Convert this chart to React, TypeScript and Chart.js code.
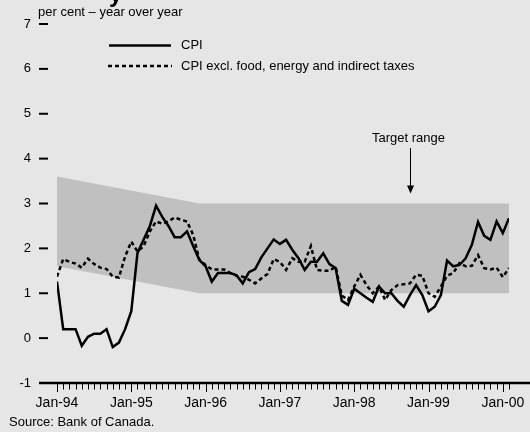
import { useEffect, useRef } from 'react';
import { Chart, registerables } from 'chart.js';

Chart.register(...registerables);

const FONT = '"Liberation Sans", Arial, Helvetica, sans-serif';

// Month index 0 = Jan-94 ... 73 = Feb-00
const yearLabels = ['Jan-94', 'Jan-95', 'Jan-96', 'Jan-97', 'Jan-98', 'Jan-99', 'Jan-00'];
const yTicks = [-1, 0, 1, 2, 3, 4, 5, 6, 7];

const cpi = [
  1.26, 0.2, 0.2, 0.2, -0.17, 0.03, 0.1, 0.1, 0.2, -0.2, -0.1, 0.2,
  0.6, 1.9, 2.2, 2.5, 2.95, 2.7, 2.5, 2.25, 2.25, 2.38, 2.05, 1.74,
  1.6, 1.26, 1.45, 1.45, 1.45, 1.4, 1.22, 1.47, 1.54, 1.8, 2.0, 2.2,
  2.1, 2.19, 1.97, 1.78, 1.52, 1.7, 1.7, 1.89, 1.65, 1.56, 0.83, 0.74,
  1.1, 1.0, 0.9, 0.81, 1.15, 1.0, 1.0, 0.83, 0.7, 0.96, 1.18, 0.96,
  0.6, 0.7, 0.96, 1.73, 1.6, 1.63, 1.78, 2.08, 2.59, 2.28, 2.19, 2.6,
  2.34, 2.67,
];

const core = [
  1.37, 1.76, 1.7, 1.66, 1.57, 1.77, 1.65, 1.57, 1.54, 1.37, 1.35, 1.82,
  2.15, 1.93, 2.05, 2.38, 2.6, 2.55, 2.6, 2.69, 2.64, 2.6, 2.3, 1.74,
  1.63, 1.53, 1.53, 1.53, 1.45, 1.39, 1.37, 1.3, 1.22, 1.33, 1.43, 1.76,
  1.7, 1.52, 1.78, 1.7, 1.7, 2.05, 1.52, 1.5, 1.5, 1.59, 0.95, 0.85,
  1.15, 1.41, 1.18, 1.0, 1.15, 0.85, 1.07, 1.18, 1.2, 1.22, 1.41, 1.39,
  1.0, 0.92, 1.15, 1.39, 1.45, 1.67, 1.6, 1.61, 1.85, 1.56, 1.53, 1.57,
  1.36, 1.56,
];

const bandMonths = [0, 23, 73];
const bandUpper = [3.6, 3.0, 3.0];
const bandLower = [1.6, 1.0, 1.0];

const targetLabel = 'Target range';
const targetMonth = 57;
const legendLabels = ['CPI', 'CPI excl. food, energy and indirect taxes'];
const unitLabel = 'per cent – year over year';
const sourceLabel = 'Source: Bank of Canada.';

const decorPlugin = {
  id: 'decor',
  beforeDraw(chart: any) {
    const { ctx, width, height } = chart;
    ctx.save();
    ctx.fillStyle = '#e6e6e6';
    ctx.fillRect(0, 0, width, height);
    ctx.restore();
  },
  afterDraw(chart: any) {
    const { ctx } = chart;
    const xs = chart.scales.x;
    const ys = chart.scales.y;
    ctx.save();
    ctx.fillStyle = '#000';
    ctx.strokeStyle = '#000';

    // partially visible title descender
    ctx.font = `bold 24px ${FONT}`;
    ctx.textAlign = 'left';
    ctx.textBaseline = 'alphabetic';
    ctx.fillText('y', 109, 2);

    // y ticks + labels
    ctx.font = `13px ${FONT}`;
    ctx.textAlign = 'right';
    ctx.textBaseline = 'middle';
    ctx.lineWidth = 2;
    yTicks.forEach((v) => {
      const y = ys.getPixelForValue(v);
      ctx.beginPath();
      ctx.moveTo(39, y);
      ctx.lineTo(48, y);
      ctx.stroke();
      ctx.fillText(String(v), 31, y);
    });

    // x axis line
    const yAxis = ys.getPixelForValue(-1);
    ctx.lineWidth = 2.5;
    ctx.beginPath();
    ctx.moveTo(39, yAxis);
    ctx.lineTo(chart.width, yAxis);
    ctx.stroke();

    // monthly ticks
    ctx.lineWidth = 1;
    for (let m = 0; m < cpi.length; m++) {
      const x = Math.round(xs.getPixelForValue(m)) + 0.5;
      const len = m % 12 === 0 ? 9 : 6.5;
      ctx.beginPath();
      ctx.moveTo(x, yAxis);
      ctx.lineTo(x, yAxis + len);
      ctx.stroke();
    }

    // x labels
    ctx.font = `14px ${FONT}`;
    ctx.textAlign = 'center';
    ctx.textBaseline = 'top';
    yearLabels.forEach((lab, i) => {
      const x = xs.getPixelForValue(i * 12);
      ctx.fillText(lab, x, yAxis + 13);
    });

    // unit label
    ctx.font = `13px ${FONT}`;
    ctx.textAlign = 'left';
    ctx.textBaseline = 'alphabetic';
    ctx.fillText(unitLabel, 38, 16);

    // source
    ctx.fillText(sourceLabel, 9, 426);

    // legend
    ctx.lineWidth = 2.5;
    ctx.beginPath();
    ctx.moveTo(109, 45.5);
    ctx.lineTo(171, 45.5);
    ctx.stroke();
    ctx.lineWidth = 2.5;
    ctx.setLineDash([4, 3]);
    ctx.beginPath();
    ctx.moveTo(108, 66);
    ctx.lineTo(172, 66);
    ctx.stroke();
    ctx.setLineDash([]);
    ctx.textBaseline = 'middle';
    ctx.fillText(legendLabels[0], 181, 45);
    ctx.fillText(legendLabels[1], 181, 66);

    // target range annotation
    const ax = Math.round(xs.getPixelForValue(targetMonth)) + 0.5;
    ctx.textAlign = 'center';
    ctx.fillText(targetLabel, ax - 2, 138);
    const tipY = ys.getPixelForValue(3) - 10;
    ctx.lineWidth = 1;
    ctx.beginPath();
    ctx.moveTo(ax, 148);
    ctx.lineTo(ax, tipY - 6);
    ctx.stroke();
    ctx.beginPath();
    ctx.moveTo(ax - 3.5, tipY - 8);
    ctx.lineTo(ax + 3.5, tipY - 8);
    ctx.lineTo(ax, tipY);
    ctx.closePath();
    ctx.fill();

    ctx.restore();
  },
};

export default function App() {
  const ref = useRef<HTMLCanvasElement>(null);
  useEffect(() => {
    document.body.style.margin = '0';
    const pts = (arr: number[]) => arr.map((v, i) => ({ x: i, y: v }));
    const bandPts = (arr: number[]) => arr.map((v, i) => ({ x: bandMonths[i], y: v }));
    const chart = new Chart(ref.current!, {
      type: 'line',
      data: {
        datasets: [
          {
            label: 'upper',
            data: bandPts(bandUpper),
            borderWidth: 0,
            borderColor: 'rgba(0,0,0,0)',
            backgroundColor: '#c0c0c0',
            pointRadius: 0,
            fill: '+1',
            order: 3,
          },
          {
            label: 'lower',
            data: bandPts(bandLower),
            borderWidth: 0,
            borderColor: 'rgba(0,0,0,0)',
            pointRadius: 0,
            fill: false,
            order: 3,
          },
          {
            label: legendLabels[0],
            data: pts(cpi),
            borderColor: '#000',
            borderWidth: 2.5,
            pointRadius: 0,
            tension: 0,
            fill: false,
            order: 0,
          },
          {
            label: legendLabels[1],
            data: pts(core),
            borderColor: '#000',
            borderWidth: 2.5,
            borderDash: [4, 3],
            pointRadius: 0,
            tension: 0,
            fill: false,
            order: 1,
          },
        ],
      },
      options: {
        animation: false,
        responsive: false,
        maintainAspectRatio: false,
        devicePixelRatio: 1,
        layout: { padding: { left: 57, right: 21, top: 24, bottom: 49 } },
        scales: {
          x: { type: 'linear', min: 0, max: 73, display: false },
          y: { type: 'linear', min: -1, max: 7, display: false },
        },
        plugins: {
          legend: { display: false },
          tooltip: { enabled: false },
          title: { display: false },
        },
      },
      plugins: [decorPlugin],
    });
    return () => chart.destroy();
  }, []);
  return (
    <div style={{ width: 530, height: 432 }}>
      <canvas ref={ref} width={530} height={432} style={{ display: 'block' }} />
    </div>
  );
}
